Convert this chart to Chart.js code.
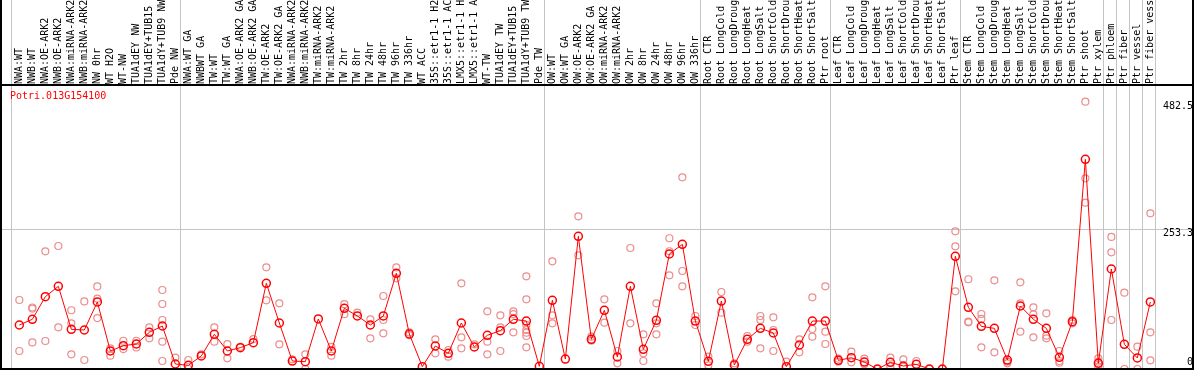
<!DOCTYPE html>
<html>
<head>
<meta charset="utf-8">
<script src="https://cdn.jsdelivr.net/npm/chart.js@4.4.0/dist/chart.umd.min.js"></script>
<style>
html,body{margin:0;padding:0;background:#fff;}
#wrap{width:1194px;height:370px;}
</style>
</head>
<body>
<div id="wrap"><canvas id="chart" width="1194" height="370"></canvas></div>
<script>
// gene shown in the chart
const geneName = "Potri.013G154100";

// sample names along the top
const sampleLabels = [
  "NWA:WT", "NWB:WT", "NWA:OE-ARK2", "NWB:OE-ARK2", "NWA:miRNA-ARK2", "NWB:miRNA-ARK2",
  "NW 0hr", "WT H2O", "WT-NW", "TUA1dEY NW", "TUA1dEY+TUB15 NW", "TUA1dY+TUB9 NW", "Pde NW",
  "NWA:WT GA", "NWBWT GA", "TW:WT", "TW:WT GA", "NWA:OE-ARK2 GA", "NWB:OE-ARK2 GA",
  "TW:OE-ARK2", "TW:OE-ARK2 GA", "NWA:miRNA-ARK2 GA", "NWB:miRNA-ARK2 GA", "TW:miRNA-ARK2",
  "TW:miRNA-ARK2 GA", "TW 2hr", "TW 8hr", "TW 24hr", "TW 48hr", "TW 96hr", "TW 336hr",
  "WT ACC", "35S::etr1-1 H2O", "35S::etr1-1 ACC", "LMX5::etr1-1 H2O", "LMX5::etr1-1 ACC",
  "WT-TW", "TUA1dEY TW", "TUA1dEY+TUB15 TW", "TUA1dY+TUB9 TW", "Pde TW",
  "OW:WT", "OW:WT GA", "OW:OE-ARK2", "OW:OE-ARK2 GA", "OW:miRNA-ARK2", "OW:miRNA-ARK2 GA",
  "OW 2hr", "OW 8hr", "OW 24hr", "OW 48hr", "OW 96hr", "OW 336hr",
  "Root CTR", "Root LongCold", "Root LongDrought", "Root LongHeat", "Root LongSalt",
  "Root ShortCold", "Root ShortDrought", "Root ShortHeat", "Root ShortSalt", "Ptr root",
  "Leaf CTR", "Leaf LongCold", "Leaf LongDrought", "Leaf LongHeat", "Leaf LongSalt",
  "Leaf ShortCold", "Leaf ShortDrought", "Leaf ShortHeat", "Leaf ShortSalt", "Ptr leaf",
  "Stem CTR", "Stem LongCold", "Stem LongDrought", "Stem LongHeat", "Stem LongSalt",
  "Stem ShortCold", "Stem ShortDrought", "Stem ShortHeat", "Stem ShortSalt", "Ptr shoot",
  "Ptr xylem", "Ptr phloem", "Ptr fiber", "Ptr vessel", "Ptr fiber vessel"
];

// mean expression per sample (red line)
const meanValues = [
  79.4, 89.7, 130.5, 149.2, 71.6, 70.4, 121, 32.5, 42.1, 45.1, 66.2, 77.6, 9.0,
  6.6, 23.5, 62.6, 32.5, 38.5, 47.5, 154.7, 83, 14.4, 13.2, 90.3, 32.5, 109.6, 95.7,
  79.4, 95.7, 172.7, 63.2, 4.2, 41.5, 28.3, 83, 39.7, 60.8, 69.2, 89.7, 86.6, 4.8,
  124, 18, 239.5, 53.6, 106, 21.7, 149.2, 35.5, 87.9, 207.6, 225, 86.6,
  13.8, 122.7, 7.2, 53.6, 73.4, 65, 4.2, 43.3, 86.6, 86.6,
  15.6, 20.4, 12.6, 0, 12, 5.4, 8.4, 0, 0, 203.4,
  111.4, 77, 73.4, 16.2, 113.7, 89.7, 73.4, 21, 85.4, 378.5, 10.3,
  180.5, 44.6, 19.9, 121
];

// single replicates per sample (pink circles)
const replicateValues = [
  [124.5, 32.5], [111, 109, 48], [212.4, 50.5], [222, 75.3], [106, 82.5, 26.5], [122, 16.2],
  [149, 127, 92], [37.4, 24], [51, 36], [51, 39], [75, 55.4], [142.6, 117.3, 88.4, 49.3, 14.4],
  [20.4], [16.2, 0], [26.5], [75.3, 49.3], [45, 19.3], [40], [54], [183.5, 124], [118.6, 44.6],
  [17.5], [26.5, 0], [], [40, 24], [117, 99], [101.6], [89.7, 55.4], [131.8, 88.4, 64.4],
  [183.5, 163.7], [66, 61], [], [53.6, 28.3], [34.3, 22.2], [154.7, 57.2, 37.4], [44.6],
  [104.1, 49.3, 26.5], [96.9, 75.3, 32.5], [104, 99, 66.2],
  [167.3, 125.8, 79.4, 70.4, 65.5, 59.6, 39.2], [],
  [194.4, 96.9, 82.5], [], [275.6, 205.2], [58.3, 51], [125.8, 83.6], [32.5, 10.3],
  [218.4, 82.5], [62.6, 28.3, 14.4], [118.6, 82.5, 62.6], [236, 212.5, 169],
  [346, 176.9, 149.2], [95.7, 79.4],
  [22.2, 6.7], [139, 101.6], [10.3], [59.6, 49.3], [95.7, 88.4, 37.4], [93.3, 70.4, 32.5],
  [13.2], [53.6, 30.1], [129.4, 72.2, 58.3], [149.2, 67.3, 45.1],
  [18.6, 13.2], [31.2, 12.1], [18.6, 8.4], [0], [20.4, 4.2], [17.5, 4.2], [14.4], [0], [0],
  [248.5, 221.5, 140.2],
  [162, 85.4, 84.3], [99.3, 90.3, 39.2], [160, 30.1], [13.2, 10.3], [156.5, 118.6, 67.3],
  [111.4, 98.7, 57.2], [100.5, 60.1, 55.4], [32.5, 14.4, 11.4], [88.4, 82.5],
  [482.5, 344.2, 300.2], [19.3, 13.2, 4.2],
  [238.3, 210.6, 88.4], [137.7, 0], [40.3, 0], [281, 66.2, 15.7]
];

// first sample index of each block (last entry closes the final block)
const groupStarts = [0, 13, 41, 53, 63, 73, 84, 85, 86, 87, 88];

// y labels on the right, and the one grid line
const yTickValues = [0, 253.3, 482.5];
const gridLineValues = [253.3];

const monoFont = "'DejaVu Sans Mono', monospace";

const meanPoints = meanValues.map((v, i) => ({ x: i, y: v }));
const repPoints = [];
replicateValues.forEach((reps, i) => reps.forEach(v => repPoints.push({ x: i, y: v })));

const framePlugin = {
  id: 'frame',
  beforeDatasetsDraw(chart) {
    const { ctx, chartArea: a, scales } = chart;
    ctx.save();
    ctx.strokeStyle = '#c4c4c4';
    ctx.lineWidth = 1;
    ctx.beginPath();
    groupStarts.forEach(g => {
      const px = Math.round(scales.x.getPixelForValue(g - 0.62)) + 0.5;
      ctx.moveTo(px, 0);
      ctx.lineTo(px, a.bottom);
    });
    gridLineValues.forEach(v => {
      const py = Math.round(scales.y.getPixelForValue(v)) + 0.5;
      ctx.moveTo(a.left, py);
      ctx.lineTo(a.right, py);
    });
    ctx.stroke();
    ctx.restore();
  },
  afterDraw(chart) {
    const { ctx, chartArea: a, scales, width } = chart;
    ctx.save();
    // black frame
    ctx.strokeStyle = '#000';
    ctx.lineWidth = 2;
    ctx.beginPath();
    ctx.moveTo(a.left, 0); ctx.lineTo(a.left, a.bottom);
    ctx.moveTo(a.right, 0); ctx.lineTo(a.right, a.bottom);
    ctx.moveTo(0, a.top); ctx.lineTo(width, a.top);
    ctx.moveTo(0, a.bottom); ctx.lineTo(width, a.bottom);
    ctx.stroke();

    ctx.font = "10px " + monoFont;
    ctx.fillStyle = '#000';
    ctx.textAlign = 'right';
    ctx.textBaseline = 'middle';
    yTickValues.forEach(v => {
      const py = Math.min(scales.y.getPixelForValue(v) + 5, a.bottom - 7);
      ctx.fillText(String(v), a.right, py);
    });

    ctx.fillStyle = '#ff0000';
    ctx.textAlign = 'left';
    ctx.fillText(geneName, a.left + 9, a.top + 11);
    ctx.restore();
  }
};

const xMin = -1.41, xMax = 90.28;

new Chart(document.getElementById('chart'), {
  type: 'line',
  data: {
    datasets: [
      {
        data: meanPoints,
        borderColor: '#ff0000',
        borderWidth: 1,
        pointRadius: 4,
        pointBorderWidth: 1.5,
        pointBorderColor: '#ff0000',
        pointBackgroundColor: 'rgba(0,0,0,0)',
        tension: 0,
        order: 0
      },
      {
        data: repPoints,
        showLine: false,
        pointRadius: 3.5,
        pointBorderWidth: 1.2,
        pointBorderColor: 'rgb(236,140,140)',
        pointBackgroundColor: 'rgba(0,0,0,0)',
        order: 1
      }
    ]
  },
  options: {
    responsive: false,
    animation: false,
    layout: { autoPadding: false, padding: { left: 1, right: 1, top: 0, bottom: 1 } },
    plugins: { legend: { display: false }, tooltip: { enabled: false } },
    scales: {
      x: { type: 'linear', min: xMin, max: xMax, display: false },
      x2: {
        type: 'linear',
        position: 'top',
        min: xMin,
        max: xMax,
        afterBuildTicks: s => { s.ticks = sampleLabels.map((_, i) => ({ value: i })); },
        afterFit: s => { s.height = 85; },
        grid: { display: false, drawTicks: false },
        border: { display: false },
        ticks: {
          autoSkip: false,
          minRotation: 90,
          maxRotation: 90,
          padding: 1,
          labelOffset: 12,
          color: '#000',
          font: { family: monoFont, size: 10 },
          callback: v => sampleLabels[v]
        }
      },
      y: { type: 'linear', min: 0, max: 512.6, display: false }
    }
  },
  plugins: [framePlugin]
});
</script>
</body>
</html>
